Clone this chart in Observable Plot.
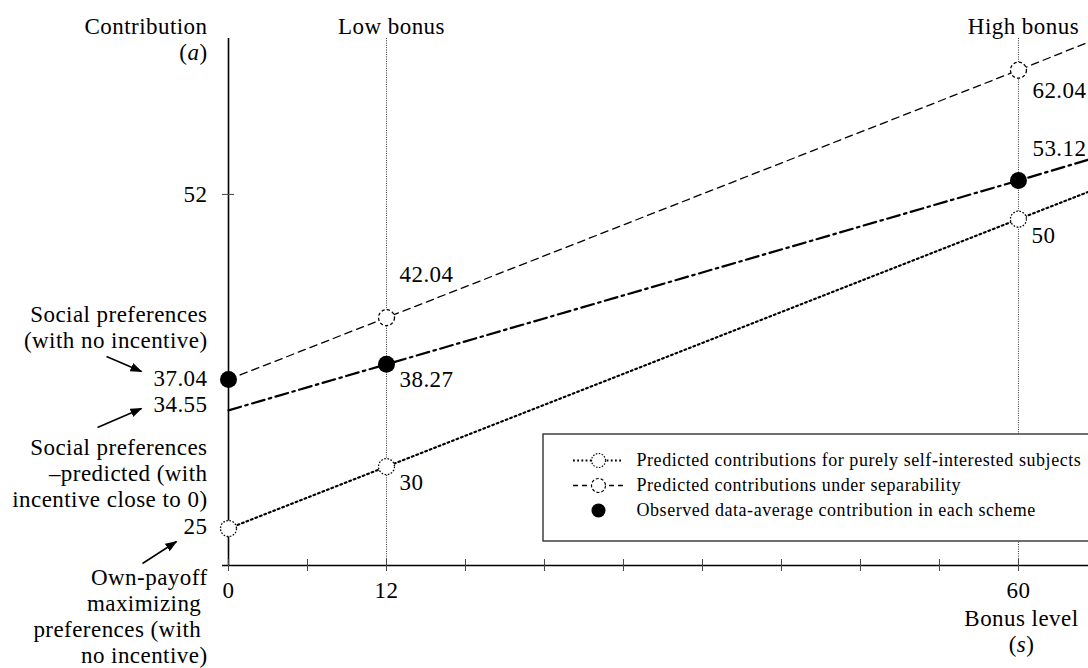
<!DOCTYPE html>
<html>
<head>
<meta charset="utf-8">
<script src="https://cdn.jsdelivr.net/npm/d3@7"></script>
<script src="https://cdn.jsdelivr.net/npm/@observablehq/plot@0.6"></script>
<style>
  html, body { margin: 0; padding: 0; background: white; overflow: hidden; }
  #chart svg text { letter-spacing: 0.45px; }
  #chart svg .legend-text text { letter-spacing: 0.55px; }
</style>
</head>
<body>
<div id="chart"></div>
<script>
// ---------------- data ----------------
const bonusLevels = [0, 12, 60];                 // bonus level s
const schemeNames = ["Low bonus", "High bonus"]; // schemes at s = 12 and s = 60
const schemeLevels = [12, 60];
const selfInterested = [25, 30, 50];             // predicted, purely self-interested
const separability = [37.04, 42.04, 62.04];      // predicted under separability
const observed = [37.04, 38.27, 53.12];          // observed averages
const trendStart = 34.55;                        // dash-dot line value at s = 0
// values where the lines leave the picture at its right edge
const edgeBonus = 65.3;
const selfInterestedEdge = 52.2;
const separabilityEdge = 64.3;
const trendEdge = 54.8;
const xTicks = [0, 6, 12, 18, 24, 30, 36, 42, 48, 54, 60];
const xTickLabels = [0, 12, 60];
const yTickLabels = [52];
const yValueLabels = ["37.04", "34.55", "25"];
const yValueLabelValues = [37.04, 34.55, 25];
const notes = [
  "Social preferences\n(with no incentive)",
  "Social preferences\n\u2013predicted (with\nincentive close to 0)",
  "Own-payoff\nmaximizing\u00a0\npreferences (with\u00a0\nno incentive)"
];
const legendLabels = [
  "Predicted contributions for purely self-interested subjects",
  "Predicted contributions under separability",
  "Observed data-average contribution in each scheme"
];

// ---------------- layout ----------------
const width = 1088, height = 668;
const mL = 228, mR = 0, mT = 38, mB = 103;
const xDomain = [0, 65.32], yDomain = [22.01, 64.6];
const pxPerY = (height - mT - mB) / (yDomain[1] - yDomain[0]);
const X = p => xDomain[0] + (p - mL) / (width - mL - mR) * (xDomain[1] - xDomain[0]);
const Y = p => yDomain[0] + (height - mB - p) / pxPerY;

const selfLine = [...bonusLevels.map((s, i) => ({s, a: selfInterested[i]})), {s: edgeBonus, a: selfInterestedEdge}];
const sepLine = [...bonusLevels.map((s, i) => ({s, a: separability[i]})), {s: edgeBonus, a: separabilityEdge}];
const trendLine = [{s: 0, a: trendStart}, ...bonusLevels.slice(1).map((s, i) => ({s, a: observed[i + 1]})), {s: edgeBonus, a: trendEdge}];
const selfPts = bonusLevels.map((s, i) => ({s, a: selfInterested[i]}));
const sepPts = bonusLevels.slice(1).map((s, i) => ({s, a: separability[i + 1]}));
const obsPts = bonusLevels.map((s, i) => ({s, a: observed[i]}));

const F = 23; // main font size
const ink = "#000";

const notePos = [Y(326.5), Y(472.5), Y(615)];
const arrows = [
  {x1: X(106), y1: Y(356), x2: X(141), y2: Y(371)},
  {x1: X(97), y1: Y(427), x2: X(141), y2: Y(408)},
  {x1: X(142), y1: Y(563), x2: X(176), y2: Y(541)}
];
const yValueShiftPx = [1, 6, 2]; // labels sit slightly above their values
const legendRowY = legendLabels.map((_, i) => Y(460 + i * 25));

const chart = Plot.plot({
  width, height,
  marginLeft: mL, marginRight: mR, marginTop: mT, marginBottom: mB,
  x: {domain: xDomain, axis: null},
  y: {domain: yDomain, axis: null},
  style: {fontFamily: "'Liberation Serif', 'Times New Roman', serif", background: "white", color: ink},
  marks: [
    // scheme guide lines
    Plot.ruleX(schemeLevels, {stroke: "#333", strokeWidth: 1, strokeDasharray: "1,1.3"}),
    // legend box
    Plot.rect([0], {x1: () => X(543), x2: () => X(1100), y1: () => Y(541), y2: () => Y(434), fill: "white", stroke: "#333", strokeWidth: 1.4}),
    // axes
    Plot.ruleX([0], {stroke: ink, strokeWidth: 1.6}),
    Plot.ruleY([yDomain[0]], {x1: () => X(222), x2: () => X(1095), stroke: ink, strokeWidth: 1.6}),
    Plot.ruleX(xTicks, {y1: () => Y(571), y2: () => Y(559), stroke: "#444", strokeWidth: 1}),
    Plot.ruleY(yTickLabels, {x1: () => X(222), x2: () => X(234), stroke: "#444", strokeWidth: 1}),
    // lines
    Plot.line(selfLine, {x: "s", y: "a", stroke: ink, strokeWidth: 2, strokeDasharray: "2,2.8"}),
    Plot.line(sepLine, {x: "s", y: "a", stroke: ink, strokeWidth: 1.3, strokeDasharray: "7.5,5"}),
    Plot.line(trendLine, {x: "s", y: "a", stroke: ink, strokeWidth: 2.2, strokeDasharray: "13,4.5,2.5,4.5"}),
    // points
    Plot.dot(selfPts, {x: "s", y: "a", r: 8, fill: "white", stroke: ink, strokeWidth: 1.3, strokeDasharray: "1.6,1.6"}),
    Plot.dot(sepPts, {x: "s", y: "a", r: 8, fill: "white", stroke: ink, strokeWidth: 1.3, strokeDasharray: "3.2,2.2"}),
    Plot.dot(obsPts, {x: "s", y: "a", r: 8.5, fill: "black", stroke: "none"}),
    // value labels
    Plot.text([selfPts[1], selfPts[2]], {x: "s", y: "a", text: d => String(d.a), dx: 13, dy: 16, textAnchor: "start", fontSize: F}),
    Plot.text([sepPts[0]], {x: "s", y: "a", text: d => String(d.a), dx: 13, dy: -43, textAnchor: "start", fontSize: F}),
    Plot.text([sepPts[1]], {x: "s", y: "a", text: d => String(d.a), dx: 14, dy: 20, textAnchor: "start", fontSize: F}),
    Plot.text([obsPts[1]], {x: "s", y: "a", text: d => String(d.a), dx: 13, dy: 15, textAnchor: "start", fontSize: F}),
    Plot.text([obsPts[2]], {x: "s", y: "a", text: d => String(d.a), dx: 14, dy: -32, textAnchor: "start", fontSize: F}),
    // left value labels
    Plot.text(yValueLabels, {x: () => 0, y: (d, i) => yValueLabelValues[i] + yValueShiftPx[i] / pxPerY, text: d => d, dx: -21, textAnchor: "end", fontSize: F}),
    // y tick label
    Plot.text(yTickLabels, {x: () => 0, y: d => d, text: d => String(d), dx: -21, textAnchor: "end", fontSize: F}),
    // x tick labels
    Plot.text(xTickLabels, {x: d => d, y: () => Y(590), text: d => String(d), fontSize: F}),
    // axis titles
    Plot.text(["Contribution"], {x: () => 0, y: () => Y(26), dx: -21, textAnchor: "end", fontSize: F}),
    Plot.text(["(a)"], {x: () => 0, y: () => Y(52), dx: -21, textAnchor: "end", fontSize: F, className: "ital"}),
    Plot.text(["Bonus level"], {x: () => 60, y: () => Y(618), dx: 3, fontSize: F}),
    Plot.text(["(s)"], {x: () => 60, y: () => Y(644), dx: 3, fontSize: F, className: "ital"}),
    // scheme names
    Plot.text(schemeNames, {x: (d, i) => schemeLevels[i], y: () => Y(26), dx: 5, fontSize: F}),
    // notes
    Plot.text(notes, {x: () => 0, y: (d, i) => notePos[i], dx: -21, textAnchor: "end", fontSize: F, lineHeight: 26 / F}),
    // arrows
    Plot.link(arrows, {x1: "x1", y1: "y1", x2: "x2", y2: "y2", stroke: ink, strokeWidth: 1.5, className: "note-arrow"}),
    // legend
    Plot.ruleY([legendRowY[0]], {x1: () => X(573), x2: () => X(623), stroke: ink, strokeWidth: 1.8, strokeDasharray: "1.8,2.4"}),
    Plot.ruleY([legendRowY[1]], {x1: () => X(573), x2: () => X(623), stroke: ink, strokeWidth: 1.3, strokeDasharray: "5,4"}),
    Plot.dot([legendRowY[0]], {x: () => X(598), y: d => d, r: 7, fill: "white", stroke: ink, strokeWidth: 1.2, strokeDasharray: "1.5,1.5"}),
    Plot.dot([legendRowY[1]], {x: () => X(598), y: d => d, r: 7, fill: "white", stroke: ink, strokeWidth: 1.2, strokeDasharray: "3,2"}),
    Plot.dot([legendRowY[2]], {x: () => X(598), y: d => d, r: 7, fill: "black"}),
    Plot.text(legendLabels, {x: () => X(636), y: (d, i) => legendRowY[i], textAnchor: "start", fontSize: 18, className: "legend-text"})
  ]
});

(function () {
  const svg = d3.select(chart);
  // filled arrow heads
  const defs = svg.insert("defs", ":first-child");
  defs.append("marker")
    .attr("id", "ahead").attr("viewBox", "0 0 12 9")
    .attr("refX", 11).attr("refY", 4.5)
    .attr("markerWidth", 12).attr("markerHeight", 9)
    .attr("markerUnits", "userSpaceOnUse").attr("orient", "auto")
    .append("path").attr("d", "M0,0L12,4.5L0,9Z").attr("fill", ink);
  svg.selectAll(".note-arrow path, .note-arrow line").attr("marker-end", "url(#ahead)");
  // italic letter inside parentheses
  svg.selectAll(".ital text").each(function () {
    const s = this.textContent;
    const t = d3.select(this);
    t.text("");
    t.append("tspan").text("(");
    t.append("tspan").attr("font-style", "italic").text(s.slice(1, -1));
    t.append("tspan").text(")");
  });
})();

document.getElementById("chart").appendChild(chart);
</script>
</body>
</html>
